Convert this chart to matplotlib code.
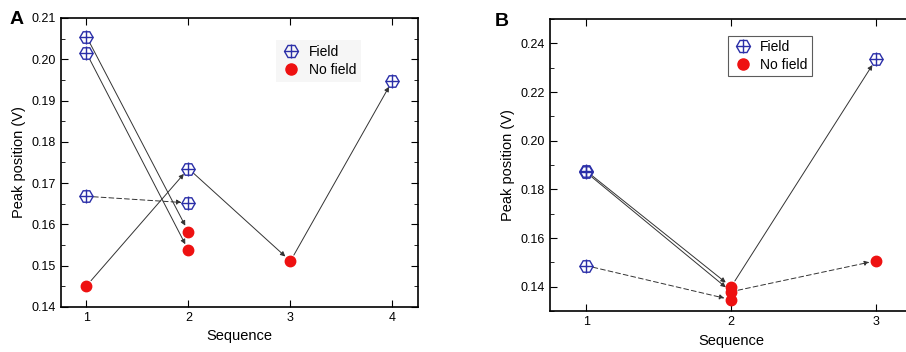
import matplotlib.pyplot as plt
from matplotlib.ticker import MultipleLocator

plt.rcParams["font.family"] = ["Liberation Sans", "DejaVu Sans"]

# Panel A values
a_field_x = [1, 1, 1, 2, 2, 4]
a_field_y = [0.2055, 0.2015, 0.1668, 0.1735, 0.1652, 0.1948]
a_nofield_x = [1, 2, 2, 3]
a_nofield_y = [0.1451, 0.1582, 0.1537, 0.1511]
# arrows: (x0, y0, x1, y1, dashed)
a_arrows = [
    (1, 0.2055, 2, 0.1582, False),
    (1, 0.2015, 2, 0.1537, False),
    (1, 0.1668, 2, 0.1652, True),
    (1, 0.1451, 2, 0.1735, False),
    (2, 0.1735, 3, 0.1511, False),
    (3, 0.1511, 4, 0.1948, False),
]

# Panel B values
b_field_x = [1, 1, 1, 3]
b_field_y = [0.1876, 0.1870, 0.1487, 0.2335]
b_nofield_x = [2, 2, 2, 3]
b_nofield_y = [0.1400, 0.1380, 0.1347, 0.1507]
b_arrows = [
    (1, 0.1876, 2, 0.1400, False),
    (1, 0.1870, 2, 0.1380, False),
    (1, 0.1487, 2, 0.1347, True),
    (2, 0.1380, 3, 0.1507, True),
    (2, 0.1400, 3, 0.2335, False),
]

blue = "#2b2fa8"
red = "#ee1111"

fig = plt.figure(figsize=(9.06, 3.52), dpi=100)
ax1 = fig.add_axes([0.0673, 0.128, 0.394, 0.821])
ax2 = fig.add_axes([0.607, 0.116, 0.40, 0.830])


def draw(ax, fx, fy, nx, ny, arrows):
    for x0, y0, x1, y1, dashed in arrows:
        ax.annotate("", xy=(x1, y1), xytext=(x0, y0),
                    arrowprops=dict(arrowstyle="-|>", color="#333333", lw=0.7,
                                    ls=(0, (5, 3)) if dashed else "-",
                                    mutation_scale=7, shrinkA=5, shrinkB=5))
    ax.plot(fx, fy, ls="none", marker="H", ms=9.5, mfc="none", mec=blue, mew=1.0, zorder=3)
    ax.plot(fx, fy, ls="none", marker="+", ms=9.5, mec=blue, mew=1.0, zorder=3)
    ax.plot(nx, ny, ls="none", marker="o", ms=7.5, mfc=red, mec=red, zorder=3)
    h1 = ax.plot([], [], ls="none", marker="H", ms=10, mfc="none", mec=blue, mew=1.0)[0]
    h2 = ax.plot([], [], ls="none", marker="+", ms=10, mec=blue, mew=1.0)[0]
    h3 = ax.plot([], [], ls="none", marker="o", ms=8, mfc=red, mec=red)[0]
    ax.set_xlabel("Sequence", fontsize=10.5)
    ax.set_ylabel("Peak position (V)", fontsize=10.5)
    ax.tick_params(which="both", direction="in", top=True, right=True, labelsize=9)
    ax.tick_params(which="major", length=5)
    ax.tick_params(which="minor", length=3)
    for s in ax.spines.values():
        s.set_linewidth(1.2)
    return [(h1, h2), h3]


hA = draw(ax1, a_field_x, a_field_y, a_nofield_x, a_nofield_y, a_arrows)
ax1.set_xlim(0.75, 4.25)
ax1.set_ylim(0.14, 0.21)
ax1.set_xticks([1, 2, 3, 4])
ax1.yaxis.set_major_locator(MultipleLocator(0.01))
ax1.yaxis.set_minor_locator(MultipleLocator(0.005))
ax1.yaxis.set_major_formatter(lambda v, p: f"{v:.2f}")
legA = ax1.legend(hA, ["Field", "No field"], loc="upper left", bbox_to_anchor=(0.602, 0.924),
                  fontsize=10, frameon=True, fancybox=False, handletextpad=0.5,
                  borderpad=0.35, labelspacing=0.3, borderaxespad=0, handlelength=1.5)
legA.get_frame().set_facecolor("#f4f4f4")
legA.get_frame().set_edgecolor("none")
ax1.text(-0.143, 0.993, "A", transform=ax1.transAxes, fontsize=14, fontweight="bold", va="center")

hB = draw(ax2, b_field_x, b_field_y, b_nofield_x, b_nofield_y, b_arrows)
ax2.set_xlim(0.75, 3.25)
ax2.set_ylim(0.13, 0.25)
ax2.set_xticks([1, 2, 3])
ax2.yaxis.set_major_locator(MultipleLocator(0.02))
ax2.yaxis.set_minor_locator(MultipleLocator(0.01))
ax2.yaxis.set_major_formatter(lambda v, p: f"{v:.2f}")
ax2.tick_params(which="both", right=False)
legB = ax2.legend(hB, ["Field", "No field"], loc="upper left", bbox_to_anchor=(0.492, 0.942),
                  fontsize=10, frameon=True, fancybox=False, handletextpad=0.5,
                  borderpad=0.3, labelspacing=0.3, borderaxespad=0, handlelength=1.5)
legB.get_frame().set_facecolor("white")
legB.get_frame().set_edgecolor("#333333")
legB.get_frame().set_linewidth(0.8)
ax2.text(-0.152, 0.99, "B", transform=ax2.transAxes, fontsize=14, fontweight="bold", va="center")

fig.savefig("out.png", dpi=100)
